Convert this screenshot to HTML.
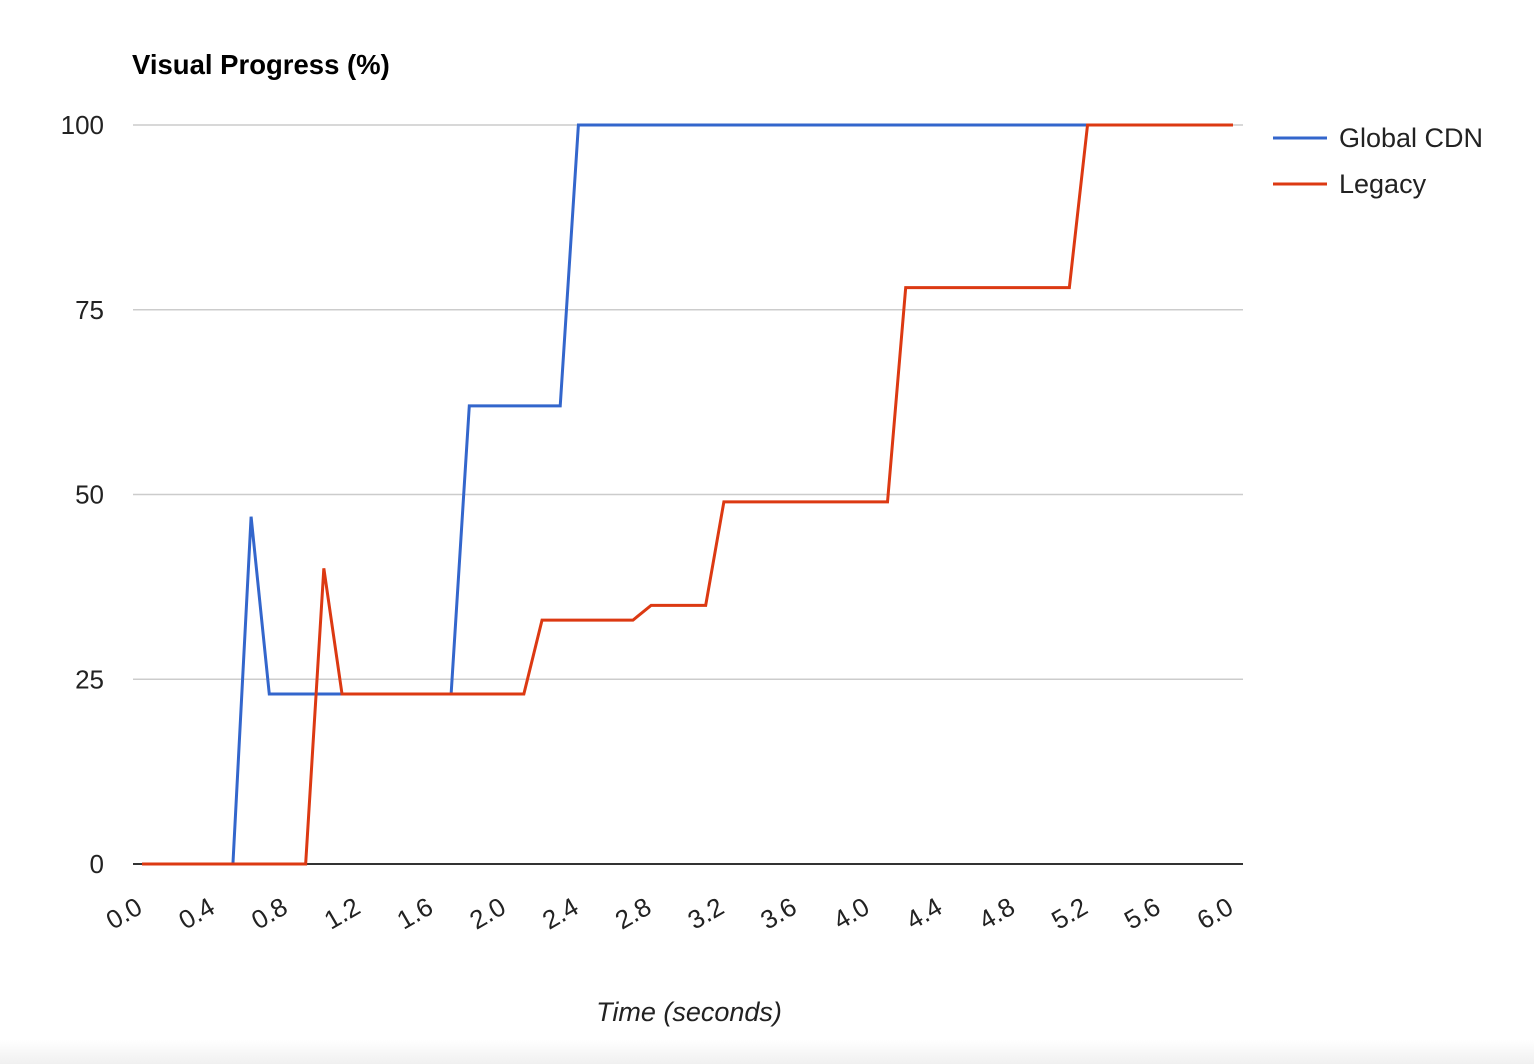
<!DOCTYPE html>
<html><head><meta charset="utf-8"><style>
html,body{margin:0;padding:0;background:#fff;}
svg{display:block;font-family:"Liberation Sans",Arial,sans-serif;}
</style></head><body>
<svg id="chart" width="1534" height="1064" viewBox="0 0 1534 1064">
<defs><linearGradient id="bg" x1="0" y1="0" x2="0" y2="1"><stop offset="0" stop-color="#fff"/><stop offset="1" stop-color="#f0f0f0"/></linearGradient></defs>
<rect x="0" y="1040" width="1534" height="24" fill="url(#bg)"/>
<text x="132" y="74" font-size="27.5" font-weight="bold" fill="#000">Visual Progress (%)</text>
<g id="grid"></g>
<g id="series"></g>
<g id="xticks"></g>
<text x="689" y="1021" font-size="27" font-style="italic" fill="#222" text-anchor="middle">Time (seconds)</text>
<g>
<g>
<line x1="1273" y1="138" x2="1327" y2="138" stroke="#3366cc" stroke-width="3"/>
<text x="1339" y="147" font-size="27" fill="#222">Global CDN</text></g>
<g>
<line x1="1273" y1="184" x2="1327" y2="184" stroke="#dc3912" stroke-width="3"/>
<text x="1339" y="193" font-size="27" fill="#222">Legacy</text></g>
</g>
</svg>
<script>
const times = [];
for (let i = 0; i <= 60; i++) times.push(i / 10);
const globalCdn = [0,0,0,0,0,0,47,23,23,23,23,23,23,23,23,23,23,23,62,62,62,62,62,62,100,100,100,100,100,100,100,100,100,100,100,100,100,100,100,100,100,100,100,100,100,100,100,100,100,100,100,100,100,100,100,100,100,100,100,100,100];
const legacy = [0,0,0,0,0,0,0,0,0,0,40,23,23,23,23,23,23,23,23,23,23,23,33,33,33,33,33,33,35,35,35,35,49,49,49,49,49,49,49,49,49,49,78,78,78,78,78,78,78,78,78,78,100,100,100,100,100,100,100,100,100];
const yTicks = [0,25,50,75,100];
const xTickLabels = ["0.0","0.4","0.8","1.2","1.6","2.0","2.4","2.8","3.2","3.6","4.0","4.4","4.8","5.2","5.6","6.0"];

const NS = "http://www.w3.org/2000/svg";
const X0 = 142, X1 = 1233, Y0 = 864, Y1 = 125;
const xs = t => X0 + (t - times[0]) / (times[times.length-1] - times[0]) * (X1 - X0);
const ys = v => Y0 - v / 100 * (Y0 - Y1);
function mk(tag, attrs, parent){const e=document.createElementNS(NS,tag);for(const k in attrs)e.setAttribute(k,attrs[k]);parent.appendChild(e);return e;}

const grid = document.getElementById("grid");
yTicks.forEach(v => {
  const l = mk("line",{x1:133,x2:1243,y1:ys(v),y2:ys(v),stroke:v===0?"#333":"#ccc","stroke-width":v===0?2:1.5},grid);
  
  
  const t = mk("text",{x:104,y:ys(v)+9,"font-size":26,fill:"#222","text-anchor":"end"},grid);
  t.textContent = v;
  
  
});

const xg = document.getElementById("xticks");
xTickLabels.forEach(s => {
  const x = xs(parseFloat(s)) + 2, y = 912;
  const t = mk("text",{x:x,y:y,"font-size":26,fill:"#222","text-anchor":"end",transform:`rotate(-30 ${x} ${y})`},xg);
  t.textContent = s;
  
  
});

const sg = document.getElementById("series");
[[globalCdn,"#3366cc","series-global-cdn"],[legacy,"#dc3912","series-legacy"]].forEach(([vals,col,name]) => {
  const d = vals.map((v,i)=>(i?"L":"M")+xs(times[i]).toFixed(2)+","+ys(v).toFixed(2)).join(" ");
  const p = mk("path",{d:d,fill:"none",stroke:col,"stroke-width":3,"stroke-linejoin":"miter"},sg);
  
  
});
</script>
</body></html>
